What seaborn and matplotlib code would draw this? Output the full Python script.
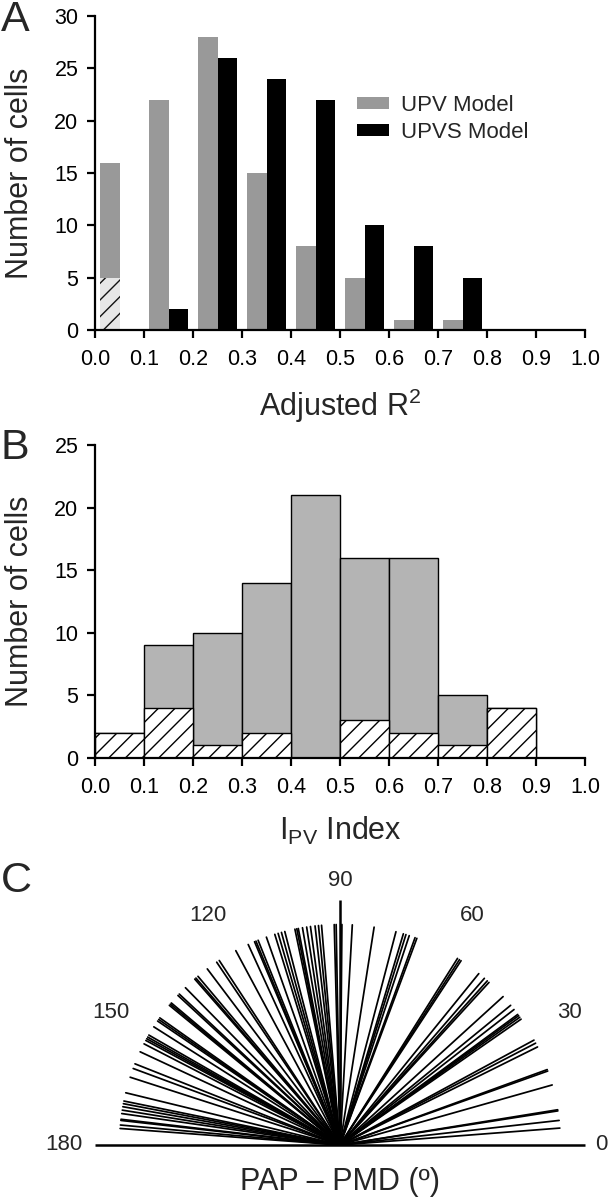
import numpy as np
import pandas as pd
import matplotlib
matplotlib.use("Agg")
import matplotlib.pyplot as plt
import seaborn as sns
from matplotlib.patches import Patch
from matplotlib.ticker import FormatStrFormatter

# ---------------- data ----------------
bin_centers = [0.05, 0.15, 0.25, 0.35, 0.45, 0.55, 0.65, 0.75, 0.85, 0.95]
upv_counts = [16, 22, 28, 15, 8, 5, 1, 1, 0, 0]
upvs_counts = [0, 2, 26, 24, 22, 10, 8, 5, 0, 0]
upv_hatched = [5, 0, 0, 0, 0, 0, 0, 0, 0, 0]
ipv_total = [2, 9, 10, 14, 21, 16, 16, 5, 4, 0]
ipv_hatched = [2, 4, 1, 2, 0, 3, 2, 1, 4, 0]
x_ticks = [0.0, 0.1, 0.2, 0.3, 0.4, 0.5, 0.6, 0.7, 0.8, 0.9, 1.0]
polar_labels = [0, 30, 60, 90, 120, 150, 180]
angles_deg = [
    # left half (90-180)
    91.0, 91.5, 94.8, 95.6, 96.5, 97.7, 98.7, 99.8, 100.9, 101.3, 101.8,
    104.5, 105.4, 106.3, 107.2, 109.5, 111.8, 112.4, 112.8, 114.6, 118.2,
    123.2, 124.0, 127.0, 130.1, 130.8, 131.2, 134.5, 136.8, 137.3, 139.9,
    140.3, 140.7, 144.8, 145.3, 145.8, 147.6, 150.1, 150.7, 151.2, 151.7,
    152.7, 155.0, 158.4, 159.7, 162.1, 166.3, 168.5, 169.2, 170.0, 170.9,
    171.8, 173.3, 173.6, 174.8, 175.7,
    # right half (0-90)
    89.5, 86.8, 81.1, 75.3, 73.3, 72.6, 71.7, 70.1, 69.6, 57.8, 57.2, 56.7,
    51.0, 49.1, 48.1, 47.5, 42.3, 39.3, 37.9, 36.3, 35.9, 35.4, 34.8, 28.4,
    27.5, 26.4, 20.0, 19.6, 15.8, 9.2, 8.9, 6.4, 4.4,
]

# ---------------- style ----------------
sns.set_style("ticks")
plt.rcParams["font.family"] = ["Liberation Sans", "DejaVu Sans"]
plt.rcParams["mathtext.fontset"] = "custom"
plt.rcParams["mathtext.rm"] = "Liberation Sans"
plt.rcParams["mathtext.it"] = "Liberation Sans:italic"
plt.rcParams["mathtext.bf"] = "Liberation Sans:bold"
plt.rcParams["hatch.linewidth"] = 1.0

GRAY_A = "#999999"
GRAY_B = "#b4b4b4"
W, H = 608, 1199
fig = plt.figure(figsize=(W / 100, H / 100), dpi=100)


def rect(x0, y0, x1, y1):
    return [x0 / W, 1 - y1 / H, (x1 - x0) / W, (y1 - y0) / H]


def style_hist_axes(ax, ymax, ystep):
    ax.set_xlim(0, 1.0)
    ax.set_ylim(0, ymax)
    ax.set_xticks(x_ticks)
    ax.set_yticks(np.arange(0, ymax + 1, ystep))
    ax.xaxis.set_major_formatter(FormatStrFormatter("%.1f"))
    sns.despine(ax=ax)
    for s in ("left", "bottom"):
        ax.spines[s].set_linewidth(1.6)
        ax.spines[s].set_color("black")
    ax.tick_params(axis="both", direction="out", length=6, width=1.6,
                   labelsize=15.5, colors="black")
    ax.tick_params(axis="x", pad=8)
    ax.tick_params(axis="y", pad=6)
    ax.set_ylabel("Number of cells", fontsize=22)
    ax.yaxis.set_label_coords(-0.122, 0.5)


# ---------------- Panel A ----------------
axA = fig.add_axes(rect(95, 16, 585, 330))
dfA = pd.DataFrame({
    "center": bin_centers * 2,
    "count": upv_counts + upvs_counts,
    "model": ["UPV Model"] * len(bin_centers) + ["UPVS Model"] * len(bin_centers),
})
sns.barplot(data=dfA, x="center", y="count", hue="model", native_scale=True,
            width=0.8, dodge=True, palette={"UPV Model": GRAY_A, "UPVS Model": "black"},
            saturation=1, errorbar=None, linewidth=0, legend=False, ax=axA)
dfAh = pd.DataFrame({
    "center": bin_centers * 2,
    "count": upv_hatched + [0] * len(bin_centers),
    "model": ["UPV Model"] * len(bin_centers) + ["UPVS Model"] * len(bin_centers),
})
sns.barplot(data=dfAh, x="center", y="count", hue="model", native_scale=True,
            width=0.8, dodge=True, palette={"UPV Model": "#e6e6e6", "UPVS Model": "#e6e6e6"},
            saturation=1, errorbar=None, linewidth=0, edgecolor="#111111",
            hatch="//", legend=False, ax=axA)
style_hist_axes(axA, 30, 5)
axA.set_xlabel("Adjusted R$^2$", fontsize=22, labelpad=12)
axA.legend(handles=[Patch(facecolor=GRAY_A, edgecolor="none"),
                    Patch(facecolor="black", edgecolor="none")],
           labels=["UPV Model", "UPVS Model"], frameon=False, fontsize=16,
           loc="center left", bbox_to_anchor=(357 / W, 1 - 119 / H),
           bbox_transform=fig.transFigure, borderpad=0, borderaxespad=0,
           handlelength=1.45, handleheight=0.45, handletextpad=0.55,
           labelspacing=0.3)

# ---------------- Panel B ----------------
axB = fig.add_axes(rect(95, 445, 585, 758))
sns.barplot(x=bin_centers, y=ipv_total, native_scale=True, width=1.0,
            color=GRAY_B, saturation=1, errorbar=None, edgecolor="black",
            linewidth=1.0, ax=axB)
sns.barplot(x=bin_centers, y=ipv_hatched, native_scale=True, width=1.0,
            color="white", saturation=1, errorbar=None, edgecolor="black",
            linewidth=1.0, hatch="//", ax=axB)
style_hist_axes(axB, 25, 5)
axB.set_xlabel(r"I$_{\mathrm{PV}}$ Index", fontsize=22, labelpad=12)

# ---------------- Panel C ----------------
# Cartesian axes in units of the half-circle radius (245 px), centre at (340, 1145) px
R_PX, CX, CY = 245.0, 340.0, 1145.0
Y_TOP = 860.0
axC = fig.add_axes(rect(0, Y_TOP, W, H))
axC.set_xlim(-CX / R_PX, (W - CX) / R_PX)
axC.set_ylim(-(H - CY) / R_PX, (CY - Y_TOP) / R_PX)
axC.axis("off")
theta = np.deg2rad(np.repeat(angles_deg, 2))
radius = np.tile([0.0, 0.9], len(angles_deg))
dfC = pd.DataFrame({
    "cell": np.repeat(np.arange(len(angles_deg)), 2),
    "x": radius * np.cos(theta),
    "y": radius * np.sin(theta),
})
sns.lineplot(data=dfC, x="x", y="y", units="cell", estimator=None,
             sort=False, color="black", linewidth=1.25, ax=axC, legend=False)
axC.plot([-1, 1], [0, 0], color="black", linewidth=1.8, solid_capstyle="butt")
axC.plot([0, 0], [0, 1], color="black", linewidth=1.8, solid_capstyle="butt")
for lab in polar_labels:
    th = np.deg2rad(lab)
    if lab == 0:
        axC.text(1.04, 0, str(lab), ha="left", va="center", fontsize=16)
    elif lab == 180:
        axC.text(-1.05, 0, str(lab), ha="right", va="center", fontsize=16)
    else:
        axC.text(1.08 * np.cos(th), 1.08 * np.sin(th), str(lab),
                 ha="center", va="center", fontsize=16)
fig.text(CX / W, 1 - 1182 / H, "PAP – PMD (º)", ha="center", va="center", fontsize=22)

# ---------------- panel letters ----------------
for letter, ypx in (("A", 20), ("B", 448), ("C", 881)):
    fig.text(1 / W, 1 - ypx / H, letter, ha="left", va="center", fontsize=31)

fig.savefig("out.png", dpi=100)
